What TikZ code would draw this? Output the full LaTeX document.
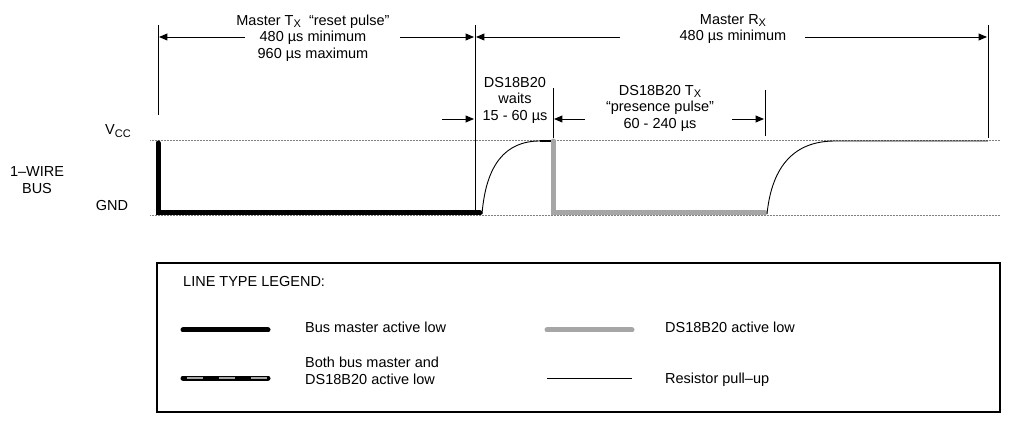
\documentclass[tikz,border=0pt]{standalone}
\usepackage{fontspec}
\setmainfont{Liberation Sans}
\usetikzlibrary{arrows}
\newcommand{\subx}{\raisebox{-0.35ex}{\fontsize{11}{11}\selectfont X}}
\begin{document}
\begin{tikzpicture}
[x=1pt, y=-1pt, font=\fontsize{14.5}{16.5}\selectfont,
% STYLES
% the reference levels of the bus
level/.style={densely dotted, gray, line width=0.5pt},
% the driving lines
master/.style={line width=5pt, line cap=round},
slave/.style={line width=5pt, line cap=round, gray!70},
pullup/.style={line width=0.9pt},
% time marks and their arrows
tick/.style={line width=0.8pt},
span/.style={-triangle 45, line width=0.9pt},
label/.style={align=center, inner sep=0pt}]

\useasboundingbox (0,0) rectangle (1023,430);

% Bus levels
\coordinate (vcc0) at (150,140);
\coordinate (vcc1) at (1000,140);
\coordinate (gnd0) at (150,215);
\coordinate (gnd1) at (1000,215);
\draw[level] (vcc0) -- (vcc1);
\draw[level] (gnd0) -- (gnd1);

\node[label] (vcc) at (118,131) {V\raisebox{-0.35ex}{\fontsize{11}{11}\selectfont CC}};
\node[label] (gnd) at (112,206) {GND};
\node[label] (bus) at (37,180) {1--WIRE\\BUS};

% Waveform
\coordinate (m0) at (158,143);
\coordinate (m1) at (158,213);
\coordinate (m2) at (480,213);
\coordinate (r0) at (482,214);
\coordinate (r1) at (540,141);
\coordinate (top) at (553,141);
\coordinate (s0) at (553,213);
\coordinate (s1) at (765,213);
\coordinate (r2) at (767,214);
\coordinate (r3) at (835,141);
\coordinate (r4) at (988,141);

\draw[master] (m0) -- (m1) -- (m2);
\draw[pullup] (r0) .. controls (486,165) and (505,141) .. (r1);
\draw[line width=2pt] (r1) -- (top);
\draw[slave] (top) -- (s0) -- (s1);
\draw[pullup] (r2) .. controls (772,165) and (795,141) .. (r3) -- (r4);

% Time marks
\draw[tick] (158,25) -- (158,115);
\draw[tick] (475,25) -- (475,212);
\draw[tick] (553,88) -- (553,138);
\draw[tick] (765,90) -- (765,136);
\draw[tick] (988,25) -- (988,138);

\coordinate (a0) at (245,37);
\coordinate (a1) at (159,37);
\coordinate (a2) at (400,37);
\coordinate (a3) at (474,37);
\coordinate (a4) at (620,37);
\coordinate (a5) at (476,37);
\coordinate (a6) at (805,37);
\coordinate (a7) at (987,37);
\draw[span] (a0) -- (a1);
\draw[span] (a2) -- (a3);
\draw[span] (a4) -- (a5);
\draw[span] (a6) -- (a7);

\coordinate (b0) at (442,119);
\coordinate (b1) at (474,119);
\coordinate (b2) at (585,119);
\coordinate (b3) at (554,119);
\coordinate (b4) at (732,119);
\coordinate (b5) at (764,119);
\draw[span] (b0) -- (b1);
\draw[span] (b2) -- (b3);
\draw[span] (b4) -- (b5);

% Timing labels
\node[label] (txreset) at (313,38)
 {Master T\subx\ \ ``reset pulse''\\480 µs minimum\\960 µs maximum};
\node[label] (rx) at (733,29) {Master R\subx\\480 µs minimum};
\node[label] (wait) at (515,100) {DS18B20\\waits\\15 - 60 µs};
\node[label] (presence) at (660,108)
 {DS18B20 T\subx\\``presence pulse''\\60 - 240 µs};

% Legend
\node[draw, line width=1.3pt, minimum width=843pt, minimum height=149pt,
 inner sep=0pt] (legend) at (578.5,337.5) {};
\node[anchor=west, inner sep=0pt] (legtitle) at (183,282) {LINE TYPE LEGEND:};

\coordinate (l0) at (183,330);
\coordinate (l1) at (268,330);
\coordinate (l2) at (183,378);
\coordinate (l3) at (268,378);
\coordinate (l4) at (547,330);
\coordinate (l5) at (632,330);
\coordinate (l6) at (547,378);
\coordinate (l7) at (632,378);
\draw[master] (l0) -- (l1);
\draw[master] (l2) -- (l3);
\draw[gray!70, line width=1.5pt, dash pattern=on 16pt off 16pt, dash phase=-4pt]
 (l2) -- (l3);
\draw[slave] (l4) -- (l5);
\draw[pullup] (l6) -- (l7);

\node[anchor=west, inner sep=0pt] (t0) at (305,327) {Bus master active low};
\node[anchor=west, inner sep=0pt, align=left] (t1) at (305,371)
 {Both bus master and\\DS18B20 active low};
\node[anchor=west, inner sep=0pt] (t2) at (665,327) {DS18B20 active low};
\node[anchor=west, inner sep=0pt] (t3) at (665,380) {Resistor pull--up};

\end{tikzpicture}
\end{document}
